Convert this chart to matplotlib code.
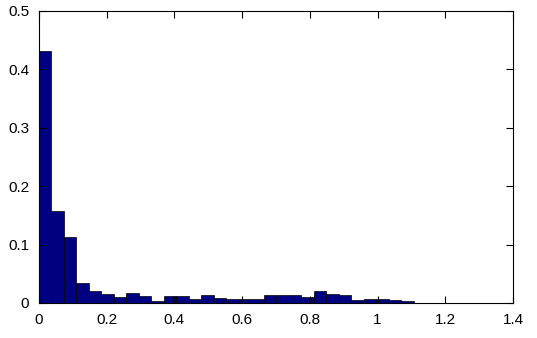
import matplotlib
matplotlib.use("Agg")
import matplotlib.pyplot as plt
import numpy as np

bin_width = 1.107 / 30
bin_lefts = [i * bin_width for i in range(30)]
heights = [0.432, 0.158, 0.113, 0.034, 0.020, 0.015, 0.010, 0.017, 0.012, 0.003,
           0.012, 0.012, 0.006, 0.013, 0.009, 0.007, 0.007, 0.006, 0.013, 0.013,
           0.013, 0.010, 0.020, 0.015, 0.014, 0.005, 0.007, 0.006, 0.005, 0.003]
xticks = [0, 0.2, 0.4, 0.6, 0.8, 1, 1.2, 1.4]
xticklabels = ["0", "0.2", "0.4", "0.6", "0.8", "1", "1.2", "1.4"]
yticks = [0, 0.1, 0.2, 0.3, 0.4, 0.5]
yticklabels = ["0", "0.1", "0.2", "0.3", "0.4", "0.5"]

plt.rcParams['font.family'] = ['Liberation Sans', 'DejaVu Sans']
fig = plt.figure(figsize=(5.37, 3.38), dpi=100)
ax = fig.add_axes([39/537, 35/338, (513-39)/537, (303-11)/338])
ax.bar(bin_lefts, heights, width=bin_width, align='edge',
       color='#000080', edgecolor='black', linewidth=0.5)
ax.set_xlim(0, 1.4)
ax.set_ylim(0, 0.5)
ax.set_xticks(xticks)
ax.set_xticklabels(xticklabels)
ax.set_yticks(yticks)
ax.set_yticklabels(yticklabels)
ax.tick_params(direction='in', top=True, right=True, length=5, width=0.8,
               labelsize=11, colors='black')
ax.tick_params(axis='x', pad=7)
ax.tick_params(axis='y', pad=7)
for s in ax.spines.values():
    s.set_linewidth(0.8)
fig.savefig("out.png", dpi=100)
